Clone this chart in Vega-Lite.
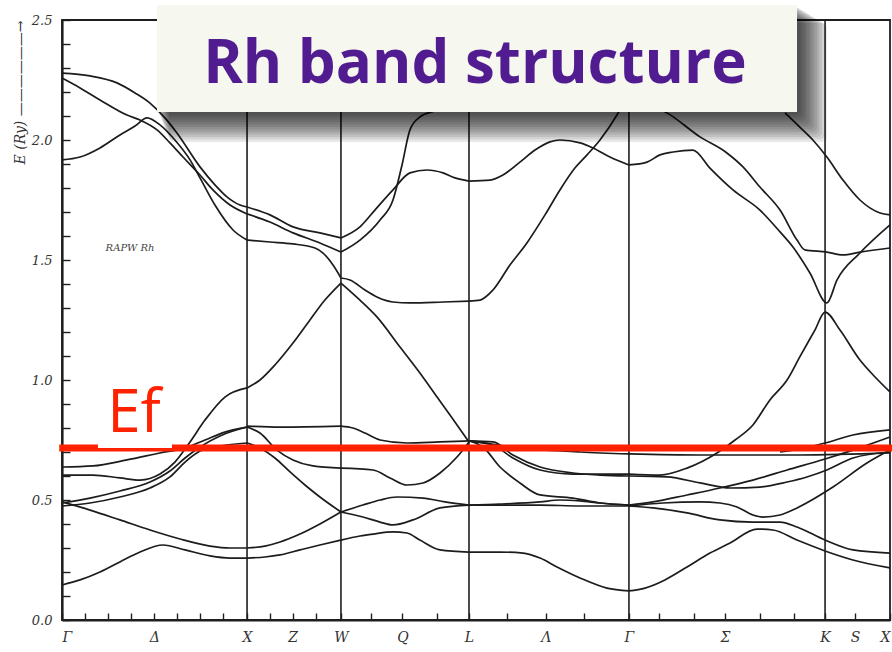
{
"$schema": "https://vega.github.io/schema/vega-lite/v6.json",
"width": 828, "height": 600,
"autosize": {"type": "none"},
"padding": {"left": 62, "top": 20, "right": 2, "bottom": 32},
"background": "white",
"config": {"view": {"stroke": "#1e1e1e", "strokeWidth": 1.8}},
"datasets": {
"sym": [{"k":1.003,"E":0,"E2":2.5},{"k":1.512,"E":0,"E2":2.5},{"k":2.206,"E":0,"E2":2.5},{"k":3.073,"E":0,"E2":2.5},{"k":4.136,"E":0,"E2":2.5}],
"ef": [{"k":-0.015,"k2":4.5,"E":0.717}],
"notch": [{"k":0.195,"k2":0.596,"E":0.717,"E2":0.735}],
"eftext": [{"k":0.39,"E":0.783,"t":"Ef"}],
"note": [{"k":0.369,"E":1.55,"t":"RAPW Rh"}],
"shadow": [
{"k":0.521,"k2":3.997,"E":2.106,"E2":2.556},
{"k":0.526,"k2":4.01,"E":2.096,"E2":2.55},
{"k":0.532,"k2":4.024,"E":2.085,"E2":2.544},
{"k":0.537,"k2":4.037,"E":2.075,"E2":2.537},
{"k":0.542,"k2":4.051,"E":2.065,"E2":2.531},
{"k":0.547,"k2":4.064,"E":2.054,"E2":2.525},
{"k":0.553,"k2":4.078,"E":2.044,"E2":2.519},
{"k":0.558,"k2":4.092,"E":2.033,"E2":2.512},
{"k":0.564,"k2":4.105,"E":2.023,"E2":2.506},
{"k":0.569,"k2":4.119,"E":2.013,"E2":2.5},
{"k":0.575,"k2":4.132,"E":2.002,"E2":2.494},
{"k":0.58,"k2":4.146,"E":1.992,"E2":2.487}],
"box": [{"k":0.515,"k2":3.984,"E":2.1167,"E2":2.5625}],
"title": [{"k":2.238,"E":2.2375,"t":"Rh band structure"}],
"bands": [
{"b":"GX1","k":0,"E":0.146},{"b":"GX1","k":0.098,"E":0.167},{"b":"GX1","k":0.206,"E":0.2},{"b":"GX1","k":0.314,"E":0.242},{"b":"GX1","k":0.423,"E":0.283},{"b":"GX1","k":0.547,"E":0.3125},{"b":"GX1","k":0.667,"E":0.292},{"b":"GX1","k":0.802,"E":0.267},{"b":"GX1","k":0.911,"E":0.258},{"b":"GX1","k":1.003,"E":0.258},
{"b":"GX2","k":0,"E":0.492},{"b":"GX2","k":0.152,"E":0.458},{"b":"GX2","k":0.314,"E":0.417},{"b":"GX2","k":0.477,"E":0.375},{"b":"GX2","k":0.64,"E":0.3375},{"b":"GX2","k":0.802,"E":0.308},{"b":"GX2","k":0.911,"E":0.3},{"b":"GX2","k":1.003,"E":0.3},
{"b":"GX3","k":0,"E":0.4875},{"b":"GX3","k":0.152,"E":0.508},{"b":"GX3","k":0.314,"E":0.5375},{"b":"GX3","k":0.477,"E":0.575},{"b":"GX3","k":0.585,"E":0.621},{"b":"GX3","k":0.667,"E":0.675},{"b":"GX3","k":0.748,"E":0.721},{"b":"GX3","k":0.856,"E":0.767},{"b":"GX3","k":1.003,"E":0.804},
{"b":"GX4","k":0,"E":0.475},{"b":"GX4","k":0.152,"E":0.4875},{"b":"GX4","k":0.314,"E":0.5125},{"b":"GX4","k":0.477,"E":0.55},{"b":"GX4","k":0.585,"E":0.596},{"b":"GX4","k":0.667,"E":0.658},{"b":"GX4","k":0.748,"E":0.704},{"b":"GX4","k":0.856,"E":0.725},{"b":"GX4","k":1.003,"E":0.7375},
{"b":"GX5","k":0,"E":0.6375},{"b":"GX5","k":0.168,"E":0.642},{"b":"GX5","k":0.352,"E":0.667},{"b":"GX5","k":0.531,"E":0.696},{"b":"GX5","k":0.667,"E":0.717},{"b":"GX5","k":0.775,"E":0.75},{"b":"GX5","k":0.883,"E":0.783},{"b":"GX5","k":1.003,"E":0.804},
{"b":"GX6","k":0,"E":0.604},{"b":"GX6","k":0.168,"E":0.604},{"b":"GX6","k":0.314,"E":0.592},{"b":"GX6","k":0.423,"E":0.583},{"b":"GX6","k":0.531,"E":0.608},{"b":"GX6","k":0.612,"E":0.658},{"b":"GX6","k":0.694,"E":0.742},{"b":"GX6","k":0.775,"E":0.833},{"b":"GX6","k":0.883,"E":0.929},{"b":"GX6","k":1.003,"E":0.967},
{"b":"U1","k":0,"E":2.279},{"b":"U1","k":0.152,"E":2.267},{"b":"U1","k":0.298,"E":2.238},{"b":"U1","k":0.396,"E":2.196},{"b":"U1","k":0.477,"E":2.154},{"b":"U1","k":0.558,"E":2.092},{"b":"U1","k":0.623,"E":2.029},{"b":"U1","k":0.748,"E":1.888},{"b":"U1","k":0.829,"E":1.813},{"b":"U1","k":0.894,"E":1.763},{"b":"U1","k":0.965,"E":1.729},{"b":"U1","k":1.003,"E":1.721},
{"b":"U2","k":0,"E":2.258},{"b":"U2","k":0.098,"E":2.217},{"b":"U2","k":0.206,"E":2.167},{"b":"U2","k":0.352,"E":2.104},{"b":"U2","k":0.423,"E":2.083},{"b":"U2","k":0.515,"E":2.042},{"b":"U2","k":0.585,"E":1.988},{"b":"U2","k":0.656,"E":1.929},{"b":"U2","k":0.748,"E":1.854},{"b":"U2","k":0.818,"E":1.792},{"b":"U2","k":0.911,"E":1.729},{"b":"U2","k":1.003,"E":1.692},
{"b":"U3","k":0,"E":1.917},{"b":"U3","k":0.098,"E":1.929},{"b":"U3","k":0.206,"E":1.967},{"b":"U3","k":0.314,"E":2.021},{"b":"U3","k":0.396,"E":2.058},{"b":"U3","k":0.461,"E":2.092},{"b":"U3","k":0.531,"E":2.063},{"b":"U3","k":0.612,"E":2.0},{"b":"U3","k":0.694,"E":1.917},{"b":"U3","k":0.748,"E":1.842},{"b":"U3","k":0.829,"E":1.729},{"b":"U3","k":0.927,"E":1.625},{"b":"U3","k":1.003,"E":1.583},
{"b":"XW1","k":1.003,"E":0.258},{"b":"XW1","k":1.1,"E":0.2625},{"b":"XW1","k":1.182,"E":0.271},{"b":"XW1","k":1.29,"E":0.292},{"b":"XW1","k":1.398,"E":0.3125},{"b":"XW1","k":1.512,"E":0.333},
{"b":"XW2","k":1.003,"E":0.3},{"b":"XW2","k":1.1,"E":0.308},{"b":"XW2","k":1.182,"E":0.325},{"b":"XW2","k":1.29,"E":0.358},{"b":"XW2","k":1.398,"E":0.4},{"b":"XW2","k":1.512,"E":0.45},
{"b":"XW3","k":1.003,"E":0.7375},{"b":"XW3","k":1.073,"E":0.717},{"b":"XW3","k":1.154,"E":0.675},{"b":"XW3","k":1.236,"E":0.617},{"b":"XW3","k":1.317,"E":0.5625},{"b":"XW3","k":1.398,"E":0.5125},{"b":"XW3","k":1.512,"E":0.45},
{"b":"XW4","k":1.003,"E":0.804},{"b":"XW4","k":1.073,"E":0.779},{"b":"XW4","k":1.165,"E":0.708},{"b":"XW4","k":1.252,"E":0.667},{"b":"XW4","k":1.36,"E":0.642},{"b":"XW4","k":1.512,"E":0.633},
{"b":"XW5","k":1.003,"E":0.808},{"b":"XW5","k":1.182,"E":0.804},{"b":"XW5","k":1.512,"E":0.808},
{"b":"XW6","k":1.003,"E":0.967},{"b":"XW6","k":1.073,"E":1.0},{"b":"XW6","k":1.154,"E":1.0625},{"b":"XW6","k":1.252,"E":1.154},{"b":"XW6","k":1.344,"E":1.25},{"b":"XW6","k":1.425,"E":1.333},{"b":"XW6","k":1.512,"E":1.404},
{"b":"XW7","k":1.003,"E":1.721},{"b":"XW7","k":1.127,"E":1.688},{"b":"XW7","k":1.252,"E":1.638},{"b":"XW7","k":1.398,"E":1.613},{"b":"XW7","k":1.512,"E":1.592},
{"b":"XW8","k":1.003,"E":1.692},{"b":"XW8","k":1.127,"E":1.658},{"b":"XW8","k":1.252,"E":1.613},{"b":"XW8","k":1.398,"E":1.571},{"b":"XW8","k":1.512,"E":1.533},
{"b":"XW9","k":1.003,"E":1.583},{"b":"XW9","k":1.127,"E":1.575},{"b":"XW9","k":1.252,"E":1.567},{"b":"XW9","k":1.371,"E":1.55},{"b":"XW9","k":1.415,"E":1.529},{"b":"XW9","k":1.469,"E":1.479},{"b":"XW9","k":1.512,"E":1.425},
{"b":"WL1","k":1.512,"E":0.333},{"b":"WL1","k":1.615,"E":0.35},{"b":"WL1","k":1.686,"E":0.358},{"b":"WL1","k":1.794,"E":0.367},{"b":"WL1","k":1.87,"E":0.3625},{"b":"WL1","k":1.94,"E":0.333},{"b":"WL1","k":2.049,"E":0.292},{"b":"WL1","k":2.206,"E":0.283},
{"b":"WL2","k":1.512,"E":0.45},{"b":"WL2","k":1.631,"E":0.479},{"b":"WL2","k":1.724,"E":0.5},{"b":"WL2","k":1.816,"E":0.5125},{"b":"WL2","k":1.957,"E":0.508},{"b":"WL2","k":2.076,"E":0.492},{"b":"WL2","k":2.206,"E":0.479},
{"b":"WL3","k":1.512,"E":0.45},{"b":"WL3","k":1.631,"E":0.429},{"b":"WL3","k":1.724,"E":0.408},{"b":"WL3","k":1.794,"E":0.396},{"b":"WL3","k":1.902,"E":0.417},{"b":"WL3","k":2.049,"E":0.467},{"b":"WL3","k":2.206,"E":0.479},
{"b":"WL4","k":1.512,"E":0.633},{"b":"WL4","k":1.686,"E":0.625},{"b":"WL4","k":1.778,"E":0.592},{"b":"WL4","k":1.87,"E":0.5625},{"b":"WL4","k":1.957,"E":0.571},{"b":"WL4","k":2.049,"E":0.6125},{"b":"WL4","k":2.141,"E":0.679},{"b":"WL4","k":2.206,"E":0.742},
{"b":"WL5","k":1.512,"E":0.808},{"b":"WL5","k":1.577,"E":0.8},{"b":"WL5","k":1.642,"E":0.779},{"b":"WL5","k":1.724,"E":0.75},{"b":"WL5","k":1.87,"E":0.7375},{"b":"WL5","k":2.049,"E":0.742},{"b":"WL5","k":2.206,"E":0.746},
{"b":"WL6","k":1.512,"E":1.404},{"b":"WL6","k":1.615,"E":1.333},{"b":"WL6","k":1.707,"E":1.263},{"b":"WL6","k":1.832,"E":1.1375},{"b":"WL6","k":1.94,"E":1.029},{"b":"WL6","k":2.033,"E":0.929},{"b":"WL6","k":2.103,"E":0.854},{"b":"WL6","k":2.206,"E":0.742},
{"b":"WL7","k":1.512,"E":1.425},{"b":"WL7","k":1.561,"E":1.417},{"b":"WL7","k":1.642,"E":1.375},{"b":"WL7","k":1.707,"E":1.346},{"b":"WL7","k":1.794,"E":1.325},{"b":"WL7","k":1.886,"E":1.321},{"b":"WL7","k":2.065,"E":1.325},{"b":"WL7","k":2.206,"E":1.329},
{"b":"WL8","k":1.512,"E":1.592},{"b":"WL8","k":1.615,"E":1.638},{"b":"WL8","k":1.696,"E":1.708},{"b":"WL8","k":1.794,"E":1.792},{"b":"WL8","k":1.886,"E":1.863},{"b":"WL8","k":1.978,"E":1.875},{"b":"WL8","k":2.065,"E":1.863},{"b":"WL8","k":2.13,"E":1.842},{"b":"WL8","k":2.206,"E":1.829},
{"b":"WL9","k":1.512,"E":1.533},{"b":"WL9","k":1.615,"E":1.583},{"b":"WL9","k":1.724,"E":1.667},{"b":"WL9","k":1.794,"E":1.75},{"b":"WL9","k":1.843,"E":1.896},{"b":"WL9","k":1.886,"E":2.042},{"b":"WL9","k":1.94,"E":2.096},{"b":"WL9","k":2.022,"E":2.121},{"b":"WL9","k":2.206,"E":2.15},
{"b":"LG1","k":2.206,"E":0.283},{"b":"LG1","k":2.374,"E":0.283},{"b":"LG1","k":2.499,"E":0.279},{"b":"LG1","k":2.591,"E":0.258},{"b":"LG1","k":2.683,"E":0.221},{"b":"LG1","k":2.808,"E":0.175},{"b":"LG1","k":2.954,"E":0.133},{"b":"LG1","k":3.073,"E":0.121},
{"b":"LG2","k":2.206,"E":0.479},{"b":"LG2","k":2.374,"E":0.479},{"b":"LG2","k":2.591,"E":0.479},{"b":"LG2","k":2.808,"E":0.475},{"b":"LG2","k":3.073,"E":0.475},
{"b":"LG3","k":2.206,"E":0.479},{"b":"LG3","k":2.374,"E":0.483},{"b":"LG3","k":2.591,"E":0.492},{"b":"LG3","k":2.699,"E":0.5},{"b":"LG3","k":2.808,"E":0.496},{"b":"LG3","k":2.916,"E":0.4875},{"b":"LG3","k":3.073,"E":0.479},
{"b":"LG4","k":2.206,"E":0.746},{"b":"LG4","k":2.282,"E":0.721},{"b":"LG4","k":2.374,"E":0.6375},{"b":"LG4","k":2.482,"E":0.571},{"b":"LG4","k":2.591,"E":0.521},{"b":"LG4","k":2.77,"E":0.508},{"b":"LG4","k":2.916,"E":0.4875},{"b":"LG4","k":3.073,"E":0.479},
{"b":"LG5","k":2.206,"E":0.746},{"b":"LG5","k":2.336,"E":0.742},{"b":"LG5","k":2.444,"E":0.6875},{"b":"LG5","k":2.591,"E":0.6375},{"b":"LG5","k":2.77,"E":0.6125},{"b":"LG5","k":2.916,"E":0.604},{"b":"LG5","k":3.073,"E":0.6},
{"b":"LG6","k":2.206,"E":0.746},{"b":"LG6","k":2.336,"E":0.729},{"b":"LG6","k":2.444,"E":0.675},{"b":"LG6","k":2.591,"E":0.625},{"b":"LG6","k":2.77,"E":0.608},{"b":"LG6","k":3.073,"E":0.608},
{"b":"LG7","k":2.206,"E":0.746},{"b":"LG7","k":2.482,"E":0.717},{"b":"LG7","k":2.808,"E":0.7},{"b":"LG7","k":3.073,"E":0.692},
{"b":"LG8","k":2.206,"E":1.329},{"b":"LG8","k":2.266,"E":1.333},{"b":"LG8","k":2.336,"E":1.375},{"b":"LG8","k":2.428,"E":1.479},{"b":"LG8","k":2.52,"E":1.571},{"b":"LG8","k":2.618,"E":1.688},{"b":"LG8","k":2.699,"E":1.792},{"b":"LG8","k":2.78,"E":1.883},{"b":"LG8","k":2.846,"E":1.938},{"b":"LG8","k":2.916,"E":2.0},{"b":"LG8","k":3.008,"E":2.104},{"b":"LG8","k":3.073,"E":2.196},
{"b":"LG9","k":2.206,"E":1.829},{"b":"LG9","k":2.32,"E":1.833},{"b":"LG9","k":2.39,"E":1.854},{"b":"LG9","k":2.482,"E":1.908},{"b":"LG9","k":2.564,"E":1.958},{"b":"LG9","k":2.645,"E":1.992},{"b":"LG9","k":2.699,"E":2.0},{"b":"LG9","k":2.808,"E":1.988},{"b":"LG9","k":2.878,"E":1.967},{"b":"LG9","k":2.97,"E":1.929},{"b":"LG9","k":3.073,"E":1.896},
{"b":"G1","k":3.073,"E":0.121},{"b":"G1","k":3.16,"E":0.133},{"b":"G1","k":3.268,"E":0.167},{"b":"G1","k":3.388,"E":0.221},{"b":"G1","k":3.512,"E":0.279},{"b":"G1","k":3.621,"E":0.321},{"b":"G1","k":3.767,"E":0.379},{"b":"G1","k":3.854,"E":0.375},{"b":"G1","k":3.984,"E":0.333},{"b":"G1","k":4.136,"E":0.2875},{"b":"G1","k":4.287,"E":0.25},{"b":"G1","k":4.488,"E":0.217},
{"b":"G2","k":3.073,"E":0.475},{"b":"G2","k":3.203,"E":0.467},{"b":"G2","k":3.388,"E":0.446},{"b":"G2","k":3.566,"E":0.417},{"b":"G2","k":3.745,"E":0.408},{"b":"G2","k":3.892,"E":0.408},{"b":"G2","k":3.984,"E":0.3875},{"b":"G2","k":4.136,"E":0.333},{"b":"G2","k":4.287,"E":0.292},{"b":"G2","k":4.488,"E":0.279},
{"b":"G3","k":3.073,"E":0.475},{"b":"G3","k":3.257,"E":0.4875},{"b":"G3","k":3.458,"E":0.492},{"b":"G3","k":3.566,"E":0.4875},{"b":"G3","k":3.659,"E":0.471},{"b":"G3","k":3.745,"E":0.4375},{"b":"G3","k":3.799,"E":0.429},{"b":"G3","k":3.892,"E":0.4375},{"b":"G3","k":3.984,"E":0.467},{"b":"G3","k":4.179,"E":0.554},{"b":"G3","k":4.363,"E":0.654},{"b":"G3","k":4.488,"E":0.708},
{"b":"G4","k":3.073,"E":0.479},{"b":"G4","k":3.203,"E":0.492},{"b":"G4","k":3.388,"E":0.521},{"b":"G4","k":3.566,"E":0.55},{"b":"G4","k":3.745,"E":0.583},{"b":"G4","k":3.93,"E":0.625},{"b":"G4","k":4.136,"E":0.671},{"b":"G4","k":4.287,"E":0.708},{"b":"G4","k":4.488,"E":0.7625},
{"b":"G5","k":3.073,"E":0.6},{"b":"G5","k":3.279,"E":0.596},{"b":"G5","k":3.458,"E":0.571},{"b":"G5","k":3.621,"E":0.55},{"b":"G5","k":3.783,"E":0.554},{"b":"G5","k":3.93,"E":0.575},{"b":"G5","k":4.038,"E":0.596},{"b":"G5","k":4.146,"E":0.625},{"b":"G5","k":4.287,"E":0.675},{"b":"G5","k":4.488,"E":0.7},
{"b":"G6","k":3.073,"E":0.608},{"b":"G6","k":3.241,"E":0.604},{"b":"G6","k":3.388,"E":0.633},{"b":"G6","k":3.55,"E":0.696},{"b":"G6","k":3.648,"E":0.75},{"b":"G6","k":3.745,"E":0.8125},{"b":"G6","k":3.837,"E":0.917},{"b":"G6","k":3.93,"E":1.0},{"b":"G6","k":3.999,"E":1.096},{"b":"G6","k":4.081,"E":1.208},{"b":"G6","k":4.136,"E":1.283},{"b":"G6","k":4.217,"E":1.208},{"b":"G6","k":4.325,"E":1.083},{"b":"G6","k":4.407,"E":1.0125},{"b":"G6","k":4.488,"E":0.95},
{"b":"G7","k":3.073,"E":0.692},{"b":"G7","k":3.458,"E":0.6875},{"b":"G7","k":3.999,"E":0.6875},{"b":"G7","k":4.488,"E":0.696},
{"b":"G8","k":3.892,"E":0.7},{"b":"G8","k":3.999,"E":0.7125},{"b":"G8","k":4.136,"E":0.7375},{"b":"G8","k":4.287,"E":0.771},{"b":"G8","k":4.488,"E":0.792},
{"b":"G9","k":3.073,"E":2.196},{"b":"G9","k":3.187,"E":2.146},{"b":"G9","k":3.279,"E":2.113},{"b":"G9","k":3.458,"E":2.013},{"b":"G9","k":3.604,"E":1.946},{"b":"G9","k":3.691,"E":1.888},{"b":"G9","k":3.783,"E":1.804},{"b":"G9","k":3.892,"E":1.708},{"b":"G9","k":3.984,"E":1.583},{"b":"G9","k":4.027,"E":1.542},{"b":"G9","k":4.146,"E":1.533},{"b":"G9","k":4.233,"E":1.521},{"b":"G9","k":4.325,"E":1.533},{"b":"G9","k":4.488,"E":1.55},
{"b":"G10","k":3.073,"E":1.896},{"b":"G10","k":3.171,"E":1.908},{"b":"G10","k":3.241,"E":1.938},{"b":"G10","k":3.312,"E":1.95},{"b":"G10","k":3.42,"E":1.958},{"b":"G10","k":3.512,"E":1.883},{"b":"G10","k":3.637,"E":1.792},{"b":"G10","k":3.783,"E":1.708},{"b":"G10","k":3.892,"E":1.617},{"b":"G10","k":3.962,"E":1.554},{"b":"G10","k":4.054,"E":1.446},{"b":"G10","k":4.146,"E":1.321},{"b":"G10","k":4.201,"E":1.417},{"b":"G10","k":4.325,"E":1.529},{"b":"G10","k":4.488,"E":1.646},
{"b":"G11","k":3.919,"E":2.113},{"b":"G11","k":3.999,"E":2.054},{"b":"G11","k":4.07,"E":2.0},{"b":"G11","k":4.146,"E":1.929},{"b":"G11","k":4.233,"E":1.833},{"b":"G11","k":4.325,"E":1.75},{"b":"G11","k":4.434,"E":1.696},{"b":"G11","k":4.488,"E":1.688}
]
},
"encoding": {
  "x": {"field": "k", "type": "quantitative", "scale": {"domain": [0, 4.488], "nice": false, "zero": false},
   "axis": {"title": null, "grid": false,
    "values": [0,0.125,0.25,0.375,0.5,0.625,0.75,0.875,1.003,1.125,1.25,1.375,1.512,1.677,1.845,2.03,2.206,2.412,2.623,2.829,3.073,3.236,3.425,3.593,3.783,3.967,4.136,4.298,4.488],
    "labelExpr": "datum.value == 0 ? 'Γ' : datum.value == 0.5 ? 'Δ' : datum.value == 1.003 ? 'X' : datum.value == 1.25 ? 'Z' : datum.value == 1.512 ? 'W' : datum.value == 1.845 ? 'Q' : datum.value == 2.206 ? 'L' : datum.value == 2.623 ? 'Λ' : datum.value == 3.073 ? 'Γ' : datum.value == 3.593 ? 'Σ' : datum.value == 4.136 ? 'K' : datum.value == 4.298 ? 'S' : datum.value == 4.488 ? 'X' : ''",
    "tickSize": -7, "tickWidth": 1.4, "tickColor": "#1e1e1e",
    "domainColor": "#1e1e1e", "domainWidth": 2.2,
    "labelFont": "DejaVu Serif", "labelFontStyle": "italic", "labelFontSize": 14, "labelColor": "#333333",
    "labelPadding": 17, "labelFlush": true, "labelOverlap": false}},
  "y": {"field": "E", "type": "quantitative", "scale": {"domain": [0, 2.5], "nice": false},
   "axis": {"grid": false,
    "values": [0,0.1,0.2,0.3,0.4,0.5,0.6,0.7,0.8,0.9,1.0,1.1,1.2,1.3,1.4,1.5,1.6,1.7,1.8,1.9,2.0,2.1,2.2,2.3,2.4,2.5],
    "labelExpr": "abs(datum.value*2 - round(datum.value*2)) < 0.001 ? format(datum.value, '.1f') : ''",
    "tickSize": -8, "tickWidth": 1.4, "tickColor": "#1e1e1e",
    "domainColor": "#1e1e1e", "domainWidth": 2.2,
    "labelFont": "DejaVu Serif", "labelFontStyle": "italic", "labelFontSize": 13, "labelColor": "#333333",
    "labelPadding": 18, "labelOverlap": false,
    "title": "E (Ry)  ——————→", "titleFont": "DejaVu Serif", "titleFontStyle": "italic", "titleFontWeight": "normal",
    "titleFontSize": 14, "titleColor": "#333333", "titleX": -42, "titleY": 72, "titleAngle": -90, "titleAlign": "center", "titleBaseline": "middle"}}
},
"layer": [
{"data": {"name": "sym"},
 "mark": {"type": "rule", "color": "#1e1e1e", "strokeWidth": 1.6},
 "encoding": {"y2": {"field": "E2"}}},
{"data": {"name": "bands"},
 "mark": {"type": "line", "color": "#1c1c1c", "strokeWidth": 1.7, "interpolate": "monotone"},
 "encoding": {"detail": {"field": "b"}}},
{"data": {"name": "ef"},
 "mark": {"type": "rule", "color": "#ff2200", "strokeWidth": 7},
 "encoding": {"x2": {"field": "k2"}}},
{"data": {"name": "notch"},
 "mark": {"type": "rect", "color": "white"},
 "encoding": {"x2": {"field": "k2"}, "y2": {"field": "E2"}}},
{"data": {"name": "eftext"},
 "mark": {"type": "text", "color": "#ff2200", "font": "Open Sans", "fontWeight": "normal", "fontSize": 60, "align": "center", "baseline": "alphabetic"},
 "encoding": {"text": {"field": "t"}}},
{"data": {"name": "note"},
 "mark": {"type": "text", "color": "#444444", "font": "DejaVu Serif", "fontStyle": "italic", "fontSize": 10, "align": "center", "baseline": "middle"},
 "encoding": {"text": {"field": "t"}}},
{"data": {"name": "shadow"},
 "mark": {"type": "rect", "color": "black", "opacity": 0.09, "cornerRadius": 5},
 "encoding": {"x2": {"field": "k2"}, "y2": {"field": "E2"}}},
{"data": {"name": "box"},
 "mark": {"type": "rect", "color": "#f6f8ef"},
 "encoding": {"x2": {"field": "k2"}, "y2": {"field": "E2"}}},
{"data": {"name": "title"},
 "mark": {"type": "text", "color": "#521c91", "font": "Open Sans", "fontWeight": "bold", "fontSize": 60, "align": "center", "baseline": "alphabetic"},
 "encoding": {"text": {"field": "t"}}}
]
}
